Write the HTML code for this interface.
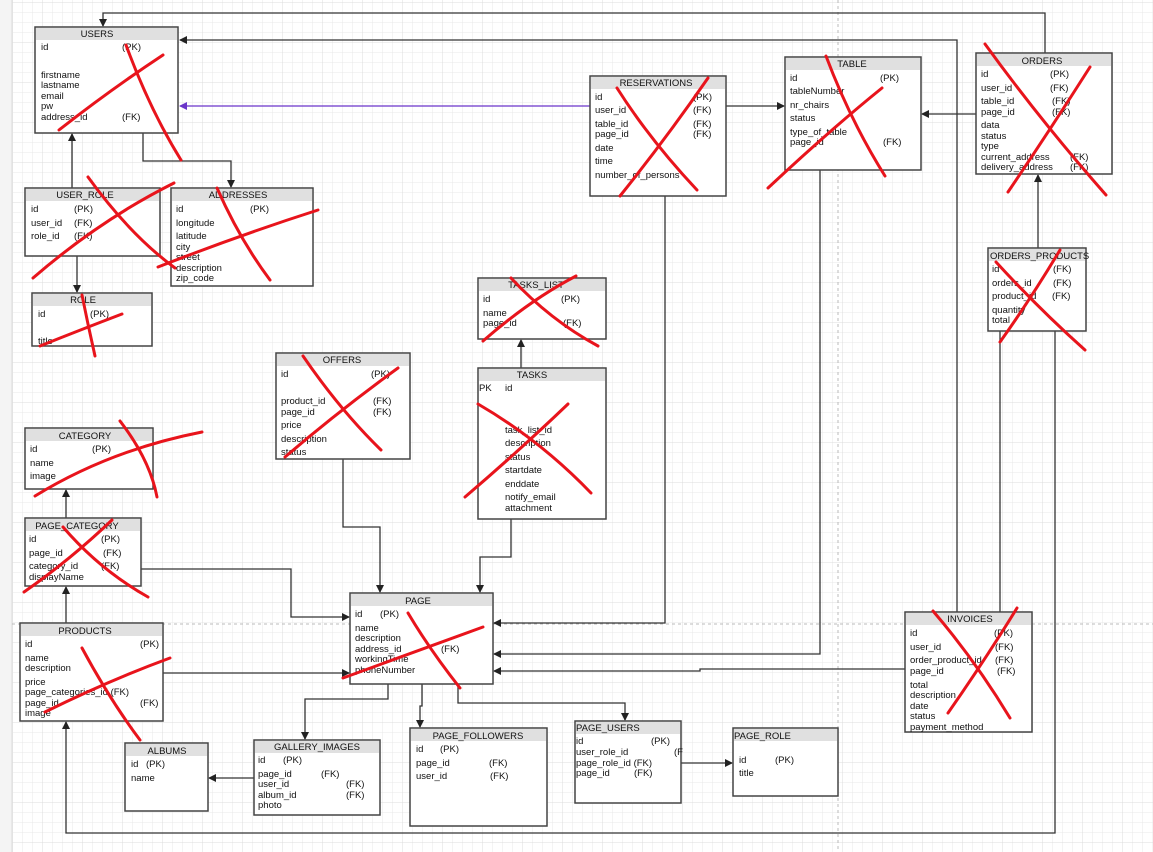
<!DOCTYPE html>
<html><head><meta charset="utf-8"><style>
html,body{margin:0;padding:0;background:#fff}
svg{display:block}
text{font-family:"Liberation Sans","DejaVu Sans",sans-serif;font-size:9.5px;fill:#111}
.h{text-anchor:middle}
</style></head><body>
<svg width="1153" height="852" viewBox="0 0 1153 852" xmlns="http://www.w3.org/2000/svg">
<defs>
<pattern id="g" x="3" y="3" width="10" height="10" patternUnits="userSpaceOnUse"><path d="M10 0V10M0 10H10" stroke="#e9e9e9" stroke-width="1" fill="none"/></pattern>
<pattern id="G" x="3" y="3" width="40" height="40" patternUnits="userSpaceOnUse"><path d="M40 0V40M0 40H40" stroke="#dcdcdc" stroke-width="1" fill="none"/></pattern>
<marker id="a" markerWidth="8" markerHeight="8" refX="7" refY="4" orient="auto" markerUnits="userSpaceOnUse"><path d="M0,0 L8,4 L0,8 Z" fill="#222"/></marker>
<marker id="p" markerWidth="8" markerHeight="8" refX="7" refY="4" orient="auto" markerUnits="userSpaceOnUse"><path d="M0,0 L8,4 L0,8 Z" fill="#6a35c9"/></marker>
</defs>
<rect width="1153" height="852" fill="#fff"/>
<rect width="1153" height="852" fill="url(#g)"/>
<rect width="1153" height="852" fill="url(#G)"/>
<rect x="0" y="0" width="12" height="852" fill="#f4f4f4"/>
<line x1="12" y1="0" x2="12" y2="852" stroke="#ddd"/>
<line x1="838" y1="0" x2="838" y2="852" stroke="#bbb" stroke-dasharray="3,3"/>
<line x1="12" y1="624" x2="1153" y2="624" stroke="#bbb" stroke-dasharray="3,3"/>

<g fill="none" stroke="#333" stroke-width="1.3">
<polyline points="1045,53 1045,13 103,13 103,26" marker-end="url(#a)"/>
<polyline points="957,612 957,40 180,40" marker-end="url(#a)"/>
<polyline points="590,106 180,106" stroke="#6a35c9" marker-end="url(#p)"/>
<polyline points="726,106 784,106" marker-end="url(#a)"/>
<polyline points="976,114 922,114" marker-end="url(#a)"/>
<polyline points="1038,248 1038,175" marker-end="url(#a)"/>
<polyline points="72,188 72,134" marker-end="url(#a)"/>
<polyline points="143,133 143,161 231,161 231,187" marker-end="url(#a)"/>
<polyline points="77,256 77,292" marker-end="url(#a)"/>
<polyline points="521,368 521,340" marker-end="url(#a)"/>
<polyline points="66,518 66,490" marker-end="url(#a)"/>
<polyline points="66,623 66,587" marker-end="url(#a)"/>
<polyline points="141,569 291,569 291,617 349,617" marker-end="url(#a)"/>
<polyline points="343,459 343,527 380,527 380,592" marker-end="url(#a)"/>
<polyline points="511,519 511,557 480,557 480,592" marker-end="url(#a)"/>
<polyline points="665,196 665,623 494,623" marker-end="url(#a)"/>
<polyline points="820,170 820,654 494,654" marker-end="url(#a)"/>
<polyline points="905,669 700,669 700,671 494,671" marker-end="url(#a)"/>
<polyline points="163,673 349,673" marker-end="url(#a)"/>
<polyline points="388,684 388,699 305,699 305,739" marker-end="url(#a)"/>
<polyline points="422,684 422,706 420,706 420,727" marker-end="url(#a)"/>
<polyline points="458,684 458,703 625,703 625,720" marker-end="url(#a)"/>
<polyline points="681,763 732,763" marker-end="url(#a)"/>
<polyline points="254,778 209,778" marker-end="url(#a)"/>
<polyline points="1055,331 1055,833 66,833 66,722" marker-end="url(#a)"/>
<polyline points="1000,331 1000,612"/>
</g>

<g stroke="#444" stroke-width="1.5" fill="#fff">
<rect x="35" y="27" width="143" height="106"/>
<rect x="25" y="188" width="135" height="68"/>
<rect x="171" y="188" width="142" height="98"/>
<rect x="32" y="293" width="120" height="53"/>
<rect x="478" y="278" width="128" height="61"/>
<rect x="276" y="353" width="134" height="106"/>
<rect x="478" y="368" width="128" height="151"/>
<rect x="25" y="428" width="128" height="61"/>
<rect x="25" y="518" width="116" height="68"/>
<rect x="20" y="623" width="143" height="98"/>
<rect x="350" y="593" width="143" height="91"/>
<rect x="125" y="743" width="83" height="68"/>
<rect x="254" y="740" width="126" height="75"/>
<rect x="410" y="728" width="137" height="98"/>
<rect x="575" y="721" width="106" height="82"/>
<rect x="733" y="728" width="105" height="68"/>
<rect x="905" y="612" width="127" height="120"/>
<rect x="590" y="76" width="136" height="120"/>
<rect x="785" y="57" width="136" height="113"/>
<rect x="976" y="53" width="136" height="121"/>
<rect x="988" y="248" width="98" height="83"/>
</g>
<g fill="#e0e0e0">
<rect x="36" y="28" width="141" height="12"/>
<rect x="26" y="189" width="133" height="12"/>
<rect x="172" y="189" width="140" height="12"/>
<rect x="33" y="294" width="118" height="12"/>
<rect x="479" y="279" width="126" height="12"/>
<rect x="277" y="354" width="132" height="12"/>
<rect x="479" y="369" width="126" height="12"/>
<rect x="26" y="429" width="126" height="12"/>
<rect x="26" y="519" width="114" height="12"/>
<rect x="21" y="624" width="141" height="12"/>
<rect x="351" y="594" width="141" height="12"/>
<rect x="126" y="744" width="81" height="12"/>
<rect x="255" y="741" width="124" height="12"/>
<rect x="411" y="729" width="135" height="12"/>
<rect x="576" y="722" width="104" height="12"/>
<rect x="734" y="729" width="103" height="12"/>
<rect x="906" y="613" width="125" height="12"/>
<rect x="591" y="77" width="134" height="12"/>
<rect x="786" y="58" width="134" height="12"/>
<rect x="977" y="54" width="134" height="12"/>
<rect x="989" y="249" width="96" height="12"/>
</g>

<g>
<text class="h" x="97" y="37">USERS</text>
<text x="41" y="50">id</text><text x="122" y="50">(PK)</text>
<text x="41" y="78">firstname</text><text x="41" y="88">lastname</text><text x="41" y="99">email</text><text x="41" y="109">pw</text><text x="41" y="120">address_id</text><text x="122" y="120">(FK)</text>

<text class="h" x="85" y="198">USER_ROLE</text>
<text x="31" y="212">id</text><text x="74" y="212">(PK)</text>
<text x="31" y="226">user_id</text><text x="74" y="226">(FK)</text>
<text x="31" y="239">role_id</text><text x="74" y="239">(FK)</text>

<text class="h" x="238" y="198">ADDRESSES</text>
<text x="176" y="212">id</text><text x="250" y="212">(PK)</text>
<text x="176" y="226">longitude</text><text x="176" y="239">latitude</text><text x="176" y="250">city</text><text x="176" y="260">street</text><text x="176" y="271">description</text><text x="176" y="281">zip_code</text>

<text class="h" x="83" y="303">ROLE</text>
<text x="38" y="317">id</text><text x="90" y="317">(PK)</text>
<text x="38" y="344">title</text>

<text class="h" x="536" y="288">TASKS_LIST</text>
<text x="483" y="302">id</text><text x="561" y="302">(PK)</text>
<text x="483" y="316">name</text><text x="483" y="326">page_id</text><text x="563" y="326">(FK)</text>

<text class="h" x="342" y="363">OFFERS</text>
<text x="281" y="377">id</text><text x="371" y="377">(PK)</text>
<text x="281" y="404">product_id</text><text x="373" y="404">(FK)</text>
<text x="281" y="415">page_id</text><text x="373" y="415">(FK)</text>
<text x="281" y="428">price</text><text x="281" y="442">description</text><text x="281" y="455">status</text>

<text class="h" x="532" y="378">TASKS</text>
<text x="479" y="391">PK</text><text x="505" y="391">id</text>
<text x="505" y="433">task_list_id</text><text x="505" y="446">description</text><text x="505" y="460">status</text><text x="505" y="473">startdate</text><text x="505" y="487">enddate</text><text x="505" y="500">notify_email</text><text x="505" y="511">attachment</text>

<text class="h" x="85" y="439">CATEGORY</text>
<text x="30" y="452">id</text><text x="92" y="452">(PK)</text>
<text x="30" y="466">name</text><text x="30" y="479">image</text>

<text class="h" x="77" y="529">PAGE_CATEGORY</text>
<text x="29" y="542">id</text><text x="101" y="542">(PK)</text>
<text x="29" y="556">page_id</text><text x="103" y="556">(FK)</text>
<text x="29" y="569">category_id</text><text x="101" y="569">(FK)</text>
<text x="29" y="580">displayName</text>

<text class="h" x="85" y="634">PRODUCTS</text>
<text x="25" y="647">id</text><text x="140" y="647">(PK)</text>
<text x="25" y="661">name</text><text x="25" y="671">description</text><text x="25" y="685">price</text>
<text x="25" y="695">page_categories_id (FK)</text>
<text x="25" y="706">page_id</text><text x="140" y="706">(FK)</text><text x="25" y="716">image</text>

<text class="h" x="418" y="604">PAGE</text>
<text x="355" y="617">id</text><text x="380" y="617">(PK)</text>
<text x="355" y="631">name</text><text x="355" y="641">description</text><text x="355" y="652">address_id</text><text x="441" y="652">(FK)</text>
<text x="355" y="662">workingTime</text><text x="355" y="673">phoneNumber</text>

<text class="h" x="167" y="754">ALBUMS</text>
<text x="131" y="767">id</text><text x="146" y="767">(PK)</text>
<text x="131" y="781">name</text>

<text class="h" x="317" y="750">GALLERY_IMAGES</text>
<text x="258" y="763">id</text><text x="283" y="763">(PK)</text>
<text x="258" y="777">page_id</text><text x="321" y="777">(FK)</text>
<text x="258" y="787">user_id</text><text x="346" y="787">(FK)</text>
<text x="258" y="798">album_id</text><text x="346" y="798">(FK)</text>
<text x="258" y="808">photo</text>

<text class="h" x="478" y="739">PAGE_FOLLOWERS</text>
<text x="416" y="752">id</text><text x="440" y="752">(PK)</text>
<text x="416" y="766">page_id</text><text x="489" y="766">(FK)</text>
<text x="416" y="779">user_id</text><text x="490" y="779">(FK)</text>

<text x="576" y="731">PAGE_USERS</text>
<text x="576" y="744">id</text><text x="651" y="744">(PK)</text>
<text x="576" y="755">user_role_id</text><text x="674" y="755">(F</text>
<text x="576" y="766">page_role_id (FK)</text>
<text x="576" y="776">page_id</text><text x="634" y="776">(FK)</text>

<text x="734" y="739">PAGE_ROLE</text>
<text x="739" y="763">id</text><text x="775" y="763">(PK)</text>
<text x="739" y="776">title</text>

<text class="h" x="970" y="622">INVOICES</text>
<text x="910" y="636">id</text><text x="994" y="636">(PK)</text>
<text x="910" y="650">user_id</text><text x="995" y="650">(FK)</text>
<text x="910" y="663">order_product_id</text><text x="995" y="663">(FK)</text>
<text x="910" y="674">page_id</text><text x="997" y="674">(FK)</text>
<text x="910" y="688">total</text><text x="910" y="698">description</text><text x="910" y="709">date</text><text x="910" y="719">status</text><text x="910" y="730">payment_method</text>

<text class="h" x="656" y="86">RESERVATIONS</text>
<text x="595" y="100">id</text><text x="693" y="100">(PK)</text>
<text x="595" y="113">user_id</text><text x="693" y="113">(FK)</text>
<text x="595" y="127">table_id</text><text x="693" y="127">(FK)</text>
<text x="595" y="137">page_id</text><text x="693" y="137">(FK)</text>
<text x="595" y="151">date</text><text x="595" y="164">time</text><text x="595" y="178">number_of_persons</text>

<text class="h" x="852" y="67">TABLE</text>
<text x="790" y="81">id</text><text x="880" y="81">(PK)</text>
<text x="790" y="94">tableNumber</text><text x="790" y="108">nr_chairs</text><text x="790" y="121">status</text>
<text x="790" y="135">type_of_table</text><text x="790" y="145">page_id</text><text x="883" y="145">(FK)</text>

<text class="h" x="1042" y="64">ORDERS</text>
<text x="981" y="77">id</text><text x="1050" y="77">(PK)</text>
<text x="981" y="91">user_id</text><text x="1050" y="91">(FK)</text>
<text x="981" y="104">table_id</text><text x="1052" y="104">(FK)</text>
<text x="981" y="115">page_id</text><text x="1052" y="115">(FK)</text>
<text x="981" y="128">data</text><text x="981" y="139">status</text><text x="981" y="149">type</text>
<text x="981" y="160">current_address</text><text x="1070" y="160">(FK)</text>
<text x="981" y="170">delivery_address</text><text x="1070" y="170">(FK)</text>

<text x="990" y="259">ORDERS_PRODUCTS</text>
<text x="992" y="272">id</text><text x="1053" y="272">(FK)</text>
<text x="992" y="286">orders_id</text><text x="1053" y="286">(FK)</text>
<text x="992" y="299">product_id</text><text x="1052" y="299">(FK)</text>
<text x="992" y="313">quantity</text><text x="992" y="323">total</text>
</g>

<g fill="none" stroke="#e8141c" stroke-width="3" stroke-linecap="round">
<path d="M59,130 Q110,90 163,55"/><path d="M126,45 Q150,110 181,160"/>
<path d="M33,278 Q100,220 174,183"/><path d="M88,177 Q130,235 175,268"/>
<path d="M158,267 Q240,235 318,210"/><path d="M217,188 Q240,240 270,280"/>
<path d="M40,346 Q80,330 122,314"/><path d="M82,295 Q88,325 95,356"/>
<path d="M35,496 Q110,450 202,432"/><path d="M120,421 Q150,460 157,497"/>
<path d="M24,592 Q70,560 112,520"/><path d="M63,527 Q100,570 148,597"/>
<path d="M45,712 Q110,680 170,658"/><path d="M82,648 Q110,700 140,740"/>
<path d="M285,457 Q340,410 398,368"/><path d="M303,356 Q340,410 381,450"/>
<path d="M483,341 Q530,300 576,276"/><path d="M511,278 Q550,320 598,346"/>
<path d="M465,497 Q520,450 568,404"/><path d="M478,404 Q540,440 591,493"/>
<path d="M343,678 Q420,650 483,627"/><path d="M408,613 Q430,650 460,688"/>
<path d="M620,196 Q665,140 708,78"/><path d="M617,88 Q650,140 697,190"/>
<path d="M768,188 Q830,130 882,88"/><path d="M826,56 Q850,120 885,176"/>
<path d="M1008,192 Q1050,130 1090,67"/><path d="M985,44 Q1040,120 1106,195"/>
<path d="M1000,342 Q1030,300 1060,250"/><path d="M996,262 Q1040,310 1085,350"/>
<path d="M948,713 Q985,660 1017,608"/><path d="M933,611 Q975,660 1010,718"/>
</g>
</svg>
</body></html>
